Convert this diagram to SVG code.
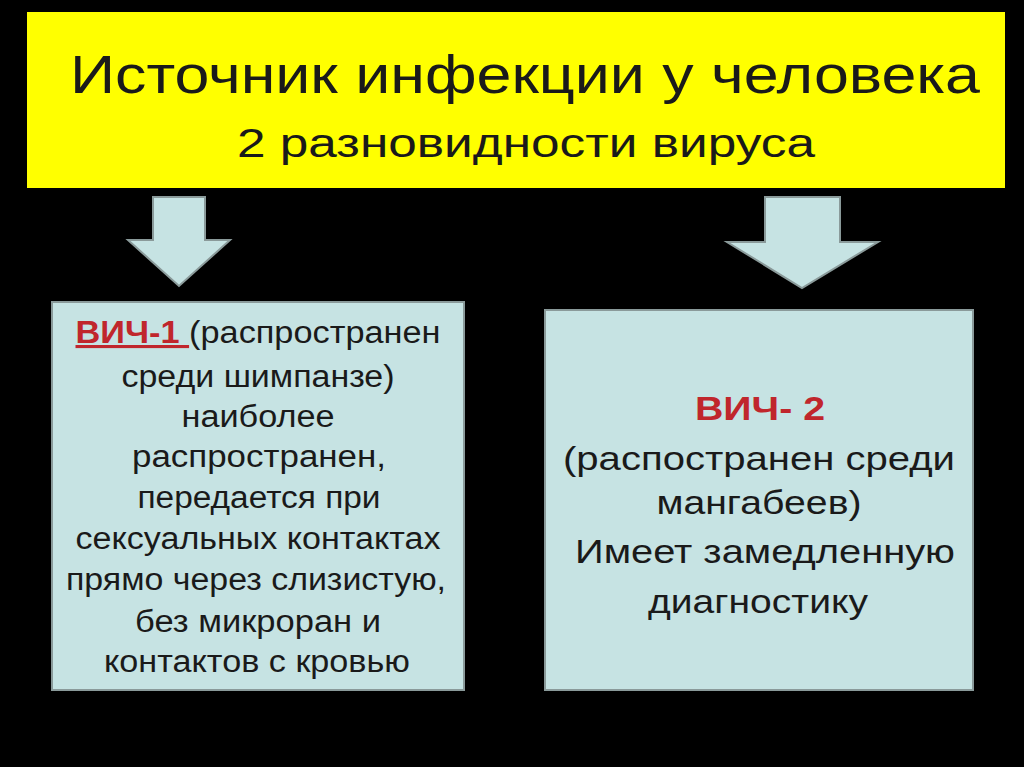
<svg xmlns="http://www.w3.org/2000/svg" width="1024" height="767" viewBox="0 0 1024 767">
<style>
.t{font-family:"Liberation Sans",Arial,sans-serif;fill:#1a1a1a;text-anchor:middle}
.b{fill:#c6e3e3;stroke:#8a9a9a;stroke-width:2}
.a{fill:#c6e3e3;stroke:#8a9a9a;stroke-width:2}
.r{fill:#c0262c;font-weight:bold}
</style>
<rect width="1024" height="767" fill="#000"/>
<g id="title">
<rect x="27" y="12" width="978" height="176" fill="#ffff00"/>
<text class="t" x="525" y="93" font-size="54" textLength="910" lengthAdjust="spacingAndGlyphs">Источник инфекции у человека</text>
<text class="t" x="526" y="157" font-size="41" textLength="578" lengthAdjust="spacingAndGlyphs">2 разновидности вируса</text>
</g>
<g id="connectors">
<polygon class="a" points="153,197 205,197 205,240 230,240 179,286 128,240 153,240"/>
<polygon class="a" points="765,197 840,197 840,242 878,242 802,288 727,242 765,242"/>
</g>
<g id="hiv1">
<rect class="b" x="52" y="302" width="412" height="388"/>
<g class="t" font-size="31" lengthAdjust="spacingAndGlyphs">
<text x="258" y="343" textLength="365" lengthAdjust="spacingAndGlyphs"><tspan class="r" text-decoration="underline">ВИЧ-1 </tspan>(распространен</text>
<text x="258" y="387" textLength="273" lengthAdjust="spacingAndGlyphs">среди шимпанзе)</text>
<text x="258" y="427" textLength="153" lengthAdjust="spacingAndGlyphs">наиболее</text>
<text x="259" y="467" textLength="254" lengthAdjust="spacingAndGlyphs">распространен,</text>
<text x="259" y="508" textLength="243" lengthAdjust="spacingAndGlyphs">передается при</text>
<text x="258" y="549" textLength="365" lengthAdjust="spacingAndGlyphs">сексуальных контактах</text>
<text x="256" y="590" textLength="380" lengthAdjust="spacingAndGlyphs">прямо через слизистую,</text>
<text x="258" y="632" textLength="246" lengthAdjust="spacingAndGlyphs">без микроран и</text>
<text x="257" y="672" textLength="306" lengthAdjust="spacingAndGlyphs">контактов с кровью</text>
</g>
</g>
<g id="hiv2">
<rect class="b" x="545" y="310" width="428" height="380"/>
<g class="t" font-size="34">
<text x="760" y="420" class="r" textLength="130" lengthAdjust="spacingAndGlyphs">ВИЧ- 2</text>
<text x="759" y="470" textLength="392" lengthAdjust="spacingAndGlyphs">(распостранен среди</text>
<text x="759" y="514" textLength="205" lengthAdjust="spacingAndGlyphs">мангабеев)</text>
<text x="765" y="563" textLength="380" lengthAdjust="spacingAndGlyphs">Имеет замедленную</text>
<text x="758" y="613" textLength="220" lengthAdjust="spacingAndGlyphs">диагностику</text>
</g>
</g>
</svg>
